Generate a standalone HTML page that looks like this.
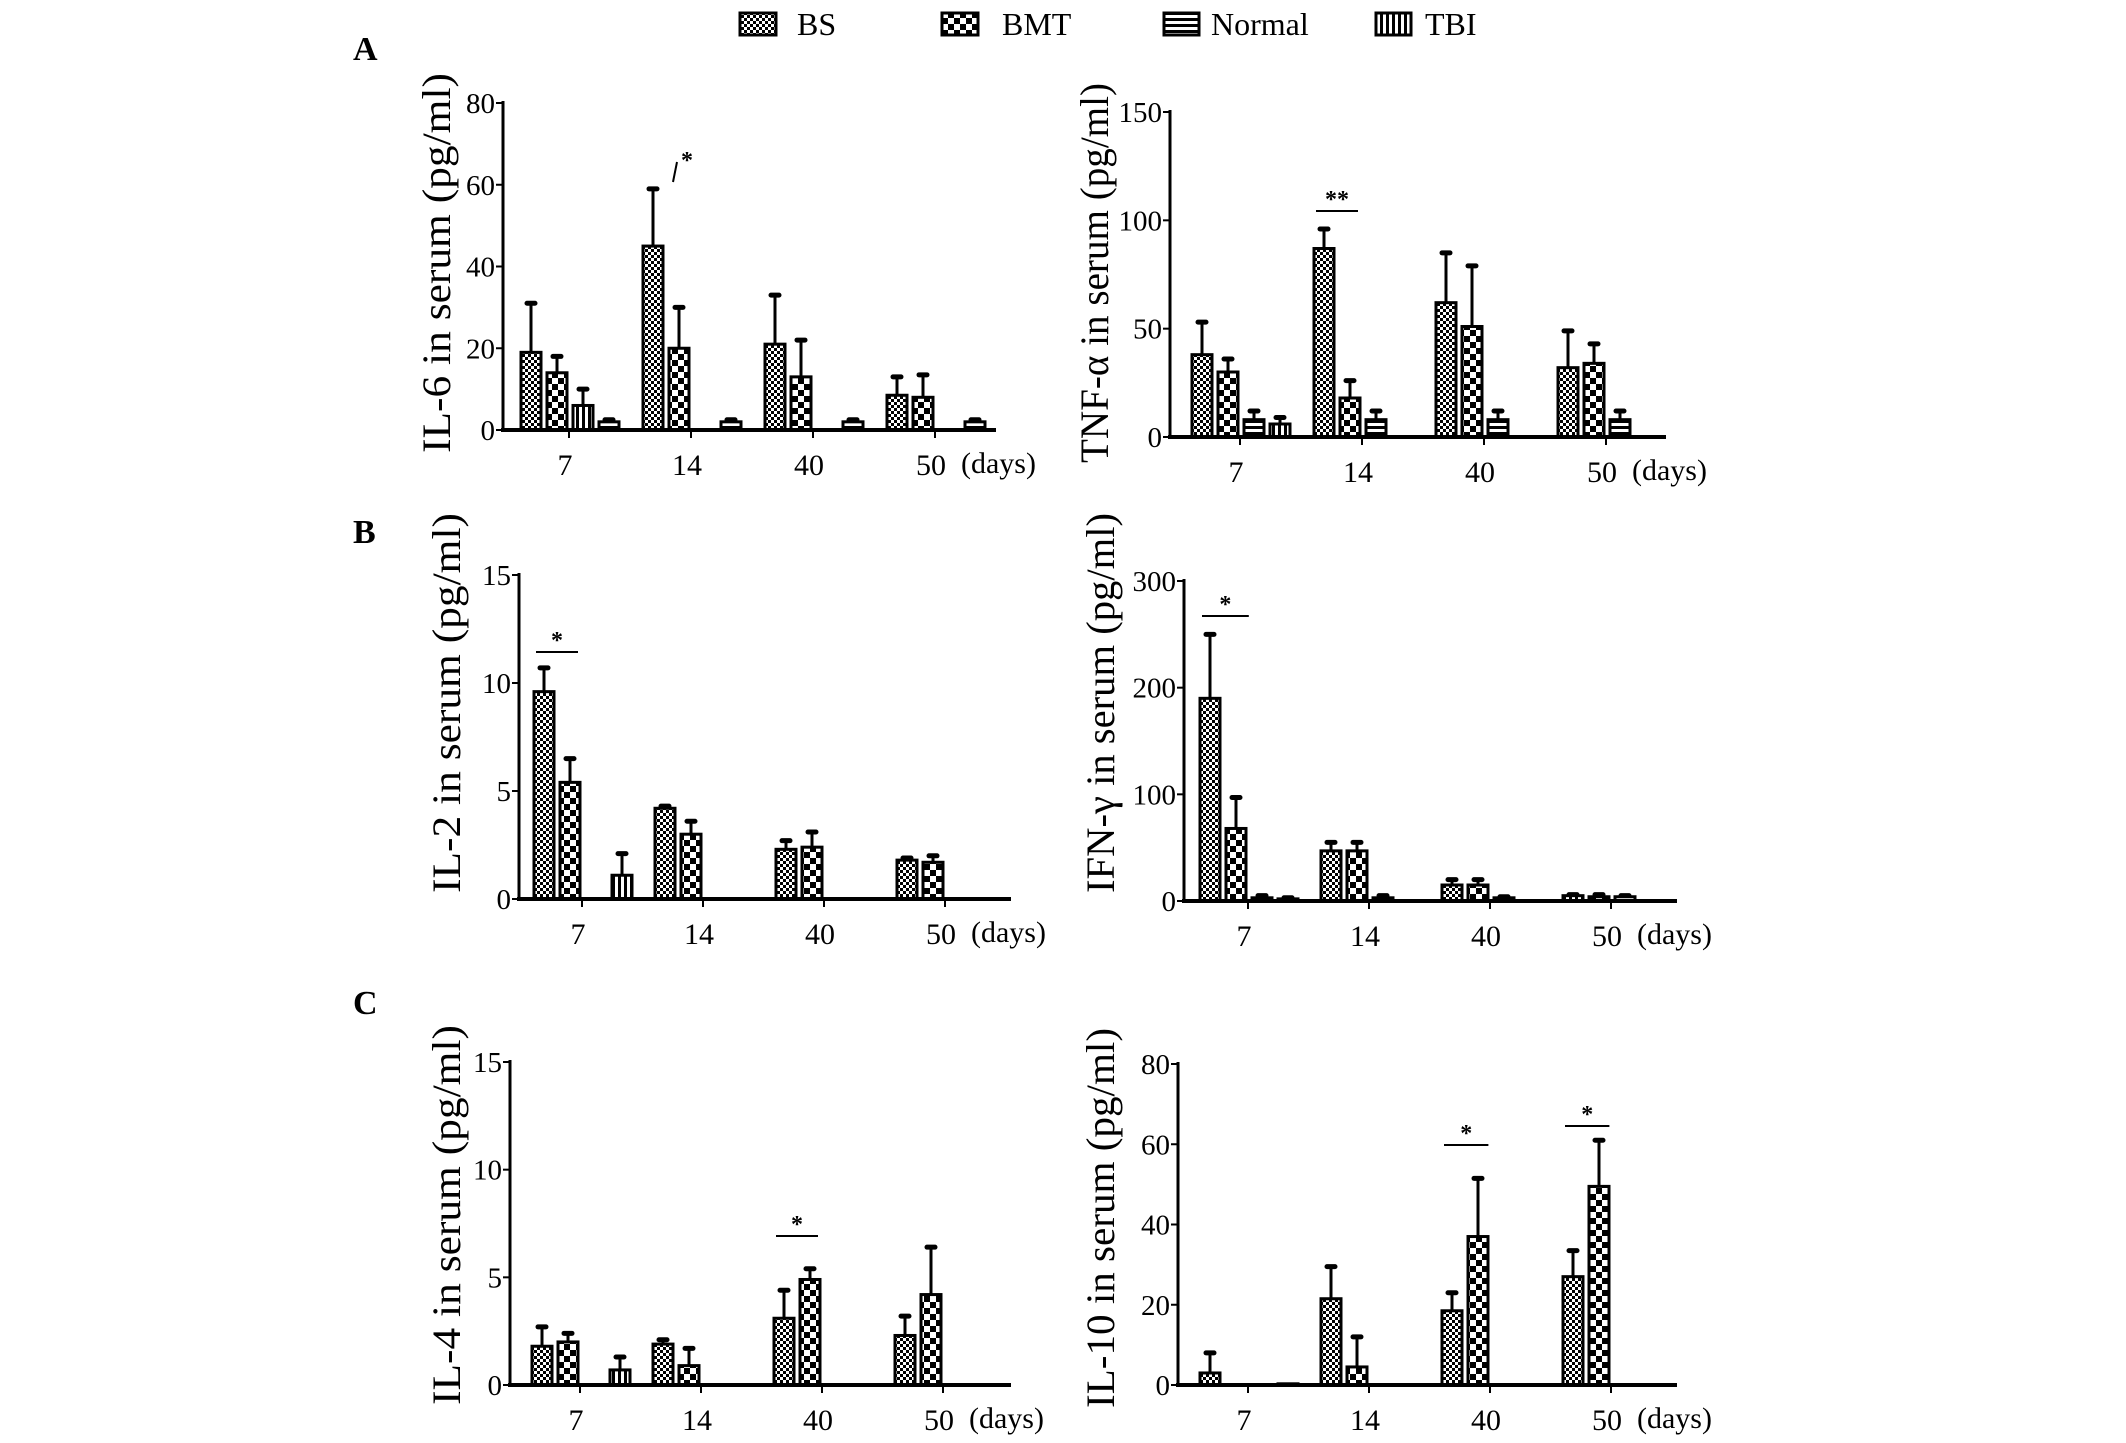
<!DOCTYPE html>
<html><head><meta charset="utf-8"><style>
html,body{margin:0;padding:0;background:#fff;}
svg{display:block;font-family:"Liberation Serif",serif;}
</style></head><body>
<svg id="fig" width="2126" height="1443" viewBox="0 0 2126 1443" xmlns="http://www.w3.org/2000/svg">
<defs>
<pattern id="p-bs" width="6" height="6" patternUnits="userSpaceOnUse"><rect width="6" height="6" fill="#fff"/><rect width="3" height="3" fill="#000"/><rect x="3" y="3" width="3" height="3" fill="#000"/></pattern>
<pattern id="p-bmt" width="12" height="12" patternUnits="userSpaceOnUse"><rect width="12" height="12" fill="#fff"/><rect width="6" height="6" fill="#000"/><rect x="6" y="6" width="6" height="6" fill="#000"/></pattern>
<pattern id="p-normal" width="6" height="6" patternUnits="userSpaceOnUse"><rect width="6" height="6" fill="#fff"/><rect width="6" height="3" fill="#000"/></pattern>
<pattern id="p-tbi" width="6" height="6" patternUnits="userSpaceOnUse"><rect width="6" height="6" fill="#fff"/><rect width="3" height="6" fill="#000"/></pattern>
</defs>
<g font-size="32">
<rect x="740" y="13" width="36" height="22" fill="url(#p-bs)" stroke="#000" stroke-width="3"/>
<text x="797" y="35">BS</text>
<rect x="942" y="13" width="36" height="22" fill="url(#p-bmt)" stroke="#000" stroke-width="3"/>
<text x="1002" y="35">BMT</text>
<rect x="1164" y="13" width="35" height="22" fill="url(#p-normal)" stroke="#000" stroke-width="3"/>
<text x="1211" y="35">Normal</text>
<rect x="1376" y="13" width="35" height="22" fill="url(#p-tbi)" stroke="#000" stroke-width="3"/>
<text x="1425" y="35">TBI</text>
</g>
<text x="353" y="60" font-size="34" font-weight="bold">A</text>
<text x="353" y="543" font-size="34" font-weight="bold">B</text>
<text x="353" y="1014" font-size="34" font-weight="bold">C</text>
</svg>
<script>
const categories = ["7","14","40","50"];
// per panel: slot0 = BS, slot1 = BMT, slot2/slot3 = Normal/TBI
const il6_bs = [19,45,21,8.5], il6_bs_err=[31,59,33,13];
const il6_bmt = [14,20,13,8], il6_bmt_err=[18,30,22,13.5];
const il6_s2 = [6,null,null,null], il6_s2_err=[10,null,null,null];
const il6_s3 = [2,2,2,2], il6_s3_err=[2.5,2.5,2.5,2.5];
const tnf_bs = [38,87,62,32], tnf_bs_err=[53,96,85,49];
const tnf_bmt = [30,18,51,34], tnf_bmt_err=[36,26,79,43];
const tnf_s2 = [8,8,8,8], tnf_s2_err=[12,12,12,12];
const tnf_s3 = [6,null,null,null], tnf_s3_err=[9,null,null,null];
const il2_bs = [9.6,4.2,2.3,1.8], il2_bs_err=[10.7,4.3,2.7,1.9];
const il2_bmt = [5.4,3.0,2.4,1.7], il2_bmt_err=[6.5,3.6,3.1,2.0];
const il2_s2 = [null,null,null,null], il2_s2_err=[null,null,null,null];
const il2_s3 = [1.1,null,null,null], il2_s3_err=[2.1,null,null,null];
const ifn_bs = [190,47,15,5], ifn_bs_err=[250,55,20,6];
const ifn_bmt = [68,47,15,4], ifn_bmt_err=[97,55,20,6];
const ifn_s2 = [3,3,3,4], ifn_s2_err=[5,5,4,5];
const ifn_s3 = [2,null,null,null], ifn_s3_err=[3,null,null,null];
const il4_bs = [1.8,1.9,3.1,2.3], il4_bs_err=[2.7,2.1,4.4,3.2];
const il4_bmt = [2.0,0.9,4.9,4.2], il4_bmt_err=[2.4,1.7,5.4,6.4];
const il4_s2 = [null,null,null,null], il4_s2_err=[null,null,null,null];
const il4_s3 = [0.7,null,null,null], il4_s3_err=[1.3,null,null,null];
const il10_bs = [3,21.5,18.5,27], il10_bs_err=[8,29.5,23,33.5];
const il10_bmt = [null,4.5,37,49.5], il10_bmt_err=[null,12,51.5,61];
const il10_s2 = [null,null,null,null], il10_s2_err=[null,null,null,null];
const il10_s3 = [0.3,null,null,null], il10_s3_err=[null,null,null,null];
const il6_ticks=[0,20,40,60,80], tnf_ticks=[0,50,100,150], il2_ticks=[0,5,10,15],
      ifn_ticks=[0,100,200,300], il4_ticks=[0,5,10,15], il10_ticks=[0,20,40,60,80];

const NS="http://www.w3.org/2000/svg";
const svg=document.getElementById('fig');
function mk(tag,attrs,parent){const e=document.createElementNS(NS,tag);for(const k in attrs)e.setAttribute(k,attrs[k]);(parent||svg).appendChild(e);return e;}

const panels=[
 {id:'il6',ax:503,y0:430,ytop:103,ymax:80,end:996,t0:569,dt:122,lx:436,ly:263,title:'IL-6 in serum (pg/ml)',ticks:il6_ticks,
  series:[[il6_bs,il6_bs_err,'bs'],[il6_bmt,il6_bmt_err,'bmt'],[il6_s2,il6_s2_err,'tbi'],[il6_s3,il6_s3_err,'normal']],sig:[{c:1,y:172,slant:true,star:'*'}]},
 {id:'tnf',ax:1170,y0:437,ytop:112,ymax:150,end:1666,t0:1240,dt:122,lx:1094,ly:273,title:'TNF-α in serum (pg/ml)',ticks:tnf_ticks,
  series:[[tnf_bs,tnf_bs_err,'bs'],[tnf_bmt,tnf_bmt_err,'bmt'],[tnf_s2,tnf_s2_err,'normal'],[tnf_s3,tnf_s3_err,'tbi']],sig:[{c:1,y:211,star:'**'}]},
 {id:'il2',ax:519,y0:899,ytop:575,ymax:15,end:1011,t0:582,dt:121,lx:446,ly:703,title:'IL-2 in serum (pg/ml)',ticks:il2_ticks,
  series:[[il2_bs,il2_bs_err,'bs'],[il2_bmt,il2_bmt_err,'bmt'],[il2_s2,il2_s2_err,'normal'],[il2_s3,il2_s3_err,'tbi']],sig:[{c:0,y:652,star:'*'}]},
 {id:'ifn',ax:1184,y0:901,ytop:581,ymax:300,end:1677,t0:1248,dt:121,lx:1100,ly:703,title:'IFN-γ in serum (pg/ml)',ticks:ifn_ticks,
  series:[[ifn_bs,ifn_bs_err,'bs'],[ifn_bmt,ifn_bmt_err,'bmt'],[ifn_s2,ifn_s2_err,'normal'],[ifn_s3,ifn_s3_err,'tbi']],sig:[{c:0,y:616,star:'*',w:1.6}]},
 {id:'il4',ax:510,y0:1385,ytop:1062,ymax:15,end:1011,t0:580,dt:121,lx:446,ly:1215,title:'IL-4 in serum (pg/ml)',ticks:il4_ticks,
  series:[[il4_bs,il4_bs_err,'bs'],[il4_bmt,il4_bmt_err,'bmt'],[il4_s2,il4_s2_err,'normal'],[il4_s3,il4_s3_err,'tbi']],sig:[{c:2,y:1236,star:'*'}]},
 {id:'il10',ax:1178,y0:1385,ytop:1064,ymax:80,end:1677,t0:1248,dt:121,lx:1100,ly:1218,title:'IL-10 in serum (pg/ml)',ticks:il10_ticks,
  series:[[il10_bs,il10_bs_err,'bs'],[il10_bmt,il10_bmt_err,'bmt'],[il10_s2,il10_s2_err,'normal'],[il10_s3,il10_s3_err,'tbi']],sig:[{c:2,y:1145,star:'*',w:1.3},{c:3,y:1126,star:'*',w:1.3}]}
];
const offs=[-38,-12,14,40], BW=20;
panels.forEach(p=>{
  const g=mk('g',{});
  
  
  const yS=v=>p.y0-(v/p.ymax)*(p.y0-p.ytop);
  const xS=i=>p.t0+i*p.dt;
  const ya=mk('line',{x1:p.ax,y1:p.ytop-2,x2:p.ax,y2:p.y0,stroke:'#000','stroke-width':3},g);
  
  
  p.ticks.forEach(t=>{
    const tk=mk('line',{x1:p.ax-7,y1:yS(t),x2:p.ax,y2:yS(t),stroke:'#000','stroke-width':2},g);
    
    
    const tl=mk('text',{x:p.ax-8,y:yS(t)+10,'text-anchor':'end','font-size':29},g);
    tl.textContent=t;
    
    
  });
  const tt=mk('text',{x:0,y:0,'text-anchor':'middle','font-size':40,textLength:380,lengthAdjust:'spacingAndGlyphs',transform:`translate(${p.lx+14},${p.ly}) rotate(-90)`},g);
  tt.textContent=p.title;
  
  
  p.series.forEach((s,si)=>{
    const [vals,errs,pat]=s;
    vals.forEach((v,i)=>{
      if(v==null)return;
      const cx=xS(i)+offs[si];
      const e=errs[i];
      if(e!=null){
        const el=mk('line',{x1:cx,y1:yS(v),x2:cx,y2:yS(e),stroke:'#000','stroke-width':3},g);
        
        
        const cap=mk('line',{x1:cx-4,y1:yS(e),x2:cx+4,y2:yS(e),stroke:'#000','stroke-width':5,'stroke-linecap':'round'},g);
        
        
      }
      const h=Math.max(p.y0-yS(v),1);
      const r=mk('rect',{x:cx-BW/2,y:p.y0-h,width:BW,height:h,fill:`url(#p-${pat})`,stroke:'#000','stroke-width':3},g);
      
      
    });
  });
  const xa=mk('line',{x1:p.ax-2,y1:p.y0,x2:p.end,y2:p.y0,stroke:'#000','stroke-width':4},g);
  
  
  categories.forEach((c,i)=>{
    const tk=mk('line',{x1:xS(i),y1:p.y0,x2:xS(i),y2:p.y0+8,stroke:'#000','stroke-width':2},g);
    
    
    const tl=mk('text',{x:xS(i)-4,y:p.y0+45,'text-anchor':'middle','font-size':30},g);
    tl.textContent=c;
    
    
  });
  const dl=mk('text',{x:xS(3)+26,y:p.y0+43,'font-size':30},g);
  dl.textContent='(days)';
  
  
  p.sig.forEach(s=>{
    const a=xS(s.c)+offs[0]-8, b=xS(s.c)+offs[1]+8*(s.w||1);
    let ln;
    if(s.slant){ln=mk('line',{x1:a+28,y1:s.y+10,x2:a+32,y2:s.y-10,stroke:'#000','stroke-width':2},g);}
    else{ln=mk('line',{x1:a,y1:s.y,x2:b,y2:s.y,stroke:'#000','stroke-width':2},g);}
    
    
    const st=mk('text',{x:s.slant?a+42:(a+b)/2,y:s.y-4,'text-anchor':'middle','font-size':24,'font-weight':'bold'},g);
    st.textContent=s.star;
    
    
  });
});
</script>
</body></html>
